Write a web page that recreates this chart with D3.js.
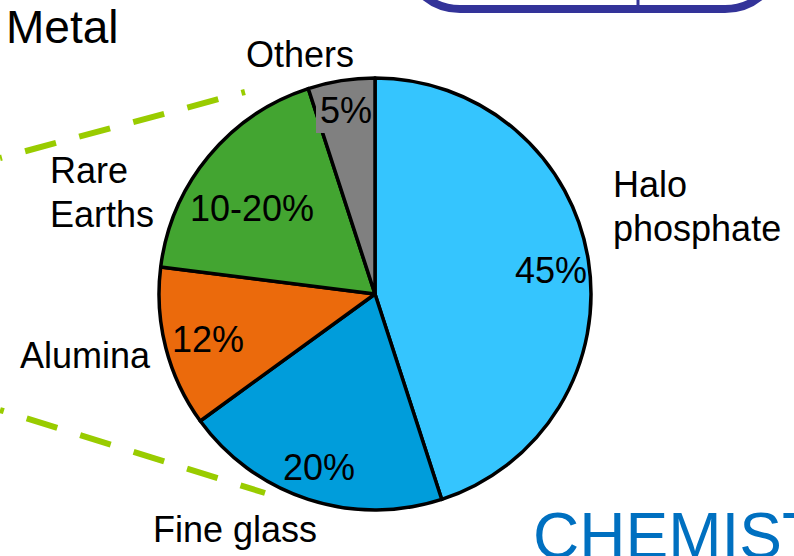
<!DOCTYPE html>
<html>
<head>
<meta charset="utf-8">
<script src="https://cdn.jsdelivr.net/npm/d3@7"></script>
<style>
  html, body { margin: 0; padding: 0; background: #fff; }
  svg { display: block; }
  text { font-family: "Liberation Sans", Arial, Helvetica, sans-serif; }
</style>
</head>
<body>
<svg id="chart" width="794" height="556"></svg>
<script>
// ---- data ----
const categories = ["Halo phosphate", "Fine glass", "Alumina", "Rare Earths", "Others"];
const values = [45, 20, 12, 18, 5];
const valueLabels = ["45%", "20%", "12%", "10-20%", "5%"];
const nameLines = [["Halo", "phosphate"], ["Fine glass"], ["Alumina"], ["Rare", "Earths"], ["Others"]];
const colors = ["#35C5FE", "#009DDB", "#EB6A0C", "#43A531", "#808080"];
const title = "Metal";
const footerText = "CHEMIST";

// ---- layout (not data) ----
const W = 794, H = 556;
const cx = 375, cy = 294, R = 216;
// value label anchors (start-anchored, relative to center)
const valuePos = [[140, -11], [-92, 186], [-203, 58], [-185, -73], [-55, -171]];
// name label anchors (start-anchored, relative to center), line gap 44
const namePos = [[238, -97], [-222, 248], [-355, 74], [-325, -111], [-129, -227]];

const svg = d3.select("#chart");

// top-right rounded box (partially off canvas)
svg.append("rect")
  .attr("x", 404).attr("y", -110).attr("width", 377).attr("height", 119)
  .attr("rx", 56).attr("ry", 56)
  .attr("fill", "#fff").attr("stroke", "#333399").attr("stroke-width", 8);
svg.append("line")
  .attr("x1", 638).attr("x2", 638).attr("y1", -10).attr("y2", 6)
  .attr("stroke", "#333399").attr("stroke-width", 3);

// dashed green lines (behind pie)
const dashLines = [
  {x1: 0, y1: 158, x2: 245, y2: 92, off: 30},
  {x1: 0, y1: 410, x2: 265, y2: 493, off: 28}
];
svg.selectAll("line.dash").data(dashLines).enter().append("line")
  .attr("class", "dash")
  .attr("x1", d => d.x1).attr("y1", d => d.y1)
  .attr("x2", d => d.x2).attr("y2", d => d.y2)
  .attr("stroke", "#99CC00").attr("stroke-width", 6)
  .attr("stroke-dasharray", "32,24")
  .attr("stroke-dashoffset", d => d.off);

// pie
const pie = d3.pie().sort(null).value(d => d)(values);
const arc = d3.arc().innerRadius(0).outerRadius(R);
const g = svg.append("g").attr("transform", `translate(${cx},${cy})`);
g.selectAll("path").data(pie).enter().append("path")
  .attr("d", arc)
  .attr("fill", (d, i) => colors[i])
  .attr("stroke", "#000").attr("stroke-width", 3.5)
  .attr("stroke-linejoin", "round");

// value labels
const vl = g.selectAll("g.vl").data(pie).enter().append("g").attr("class", "vl");
vl.each(function(d, i) {
  const sel = d3.select(this);
  const t = sel.append("text")
    .attr("x", valuePos[i][0]).attr("y", valuePos[i][1])
    .attr("font-size", 36).attr("fill", "#000")
    .text(valueLabels[i]);
  if (i === 4) {
    const bb = t.node().getBBox();
    sel.insert("rect", "text")
      .attr("x", bb.x - 4).attr("y", bb.y + 2)
      .attr("width", bb.width + 3).attr("height", bb.height)
      .attr("fill", colors[i]);
  }
});

// name labels
categories.forEach((c, i) => {
  const t = g.append("text")
    .attr("x", namePos[i][0]).attr("y", namePos[i][1])
    .attr("font-size", 36).attr("fill", "#000");
  nameLines[i].forEach((ln, k) => {
    t.append("tspan").attr("x", namePos[i][0]).attr("dy", k === 0 ? 0 : 44).text(ln);
  });
});

// title
svg.append("text").attr("x", 6).attr("y", 43)
  .attr("font-size", 46).attr("fill", "#000").text(title);

// footer partial text
svg.append("text").attr("x", 533).attr("y", 558)
  .attr("font-size", 64).attr("fill", "#0070C0").text(footerText);
</script>
</body>
</html>
